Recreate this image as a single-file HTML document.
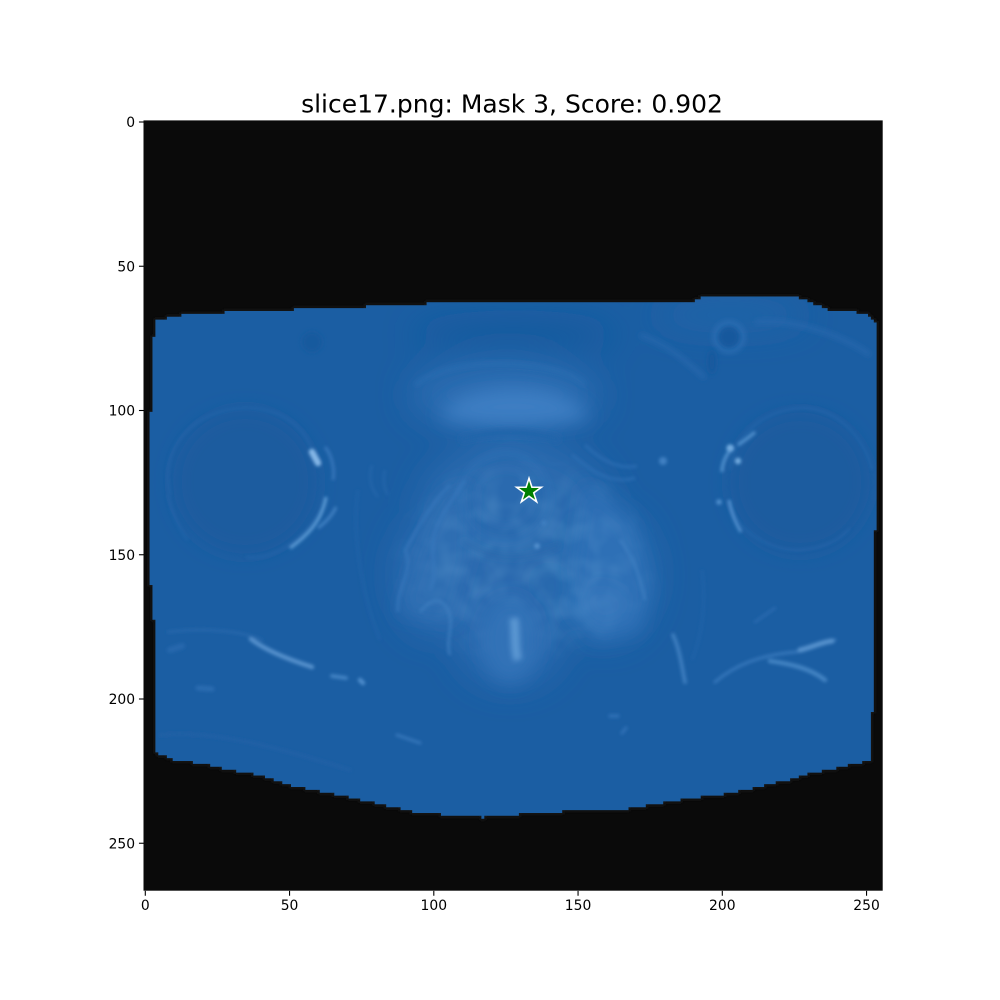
<!DOCTYPE html>
<html lang="en">
<head>
<meta charset="utf-8">
<title>slice17.png: Mask 3, Score: 0.902</title>
<style>
  html, body { margin: 0; padding: 0; background: #ffffff; }
  svg { display: block; }
  text { font-family: "DejaVu Sans", "Liberation Sans", sans-serif; fill: #000; }
</style>
</head>
<body>
<svg id="chart" xmlns="http://www.w3.org/2000/svg" width="1000" height="1000" viewBox="0 0 1000 1000">
  <defs>
    <filter id="b1" filterUnits="userSpaceOnUse" x="0" y="0" width="1000" height="1000"><feGaussianBlur stdDeviation="1.6"/></filter>
    <filter id="b2" filterUnits="userSpaceOnUse" x="0" y="0" width="1000" height="1000"><feGaussianBlur stdDeviation="2.6"/></filter>
    <filter id="b6" filterUnits="userSpaceOnUse" x="0" y="0" width="1000" height="1000"><feGaussianBlur stdDeviation="9"/></filter>
    <filter id="b14" filterUnits="userSpaceOnUse" x="0" y="0" width="1000" height="1000"><feGaussianBlur stdDeviation="16"/></filter>
    <filter id="grain" x="0" y="0" width="100%" height="100%">
      <feTurbulence type="fractalNoise" baseFrequency="0.05" numOctaves="2" seed="11"/>
      <feColorMatrix values="0 0 0 0 0.27  0 0 0 0 0.55  0 0 0 0 0.82  1.6 0 0 0 -0.55"/>
      <feGaussianBlur stdDeviation="1.2"/>
    </filter>
    <clipPath id="mask-clip"><polygon id="mask-clip-shape" points=""/></clipPath>
    <radialGradient id="fade">
      <stop offset="0.5" stop-color="#fff"/>
      <stop offset="1" stop-color="#000"/>
    </radialGradient>
    <mask id="centre-fade"><ellipse cx="525" cy="560" rx="140" ry="110" fill="url(#fade)"/></mask>
  </defs>

  <text x="512" y="112.5" font-size="25" text-anchor="middle">slice17.png: Mask 3, Score: 0.902</text>

  <g id="image-layer">
    <rect x="143.5" y="120.4" width="739.2" height="770.3" fill="#0a0a0a"/>
    <polygon id="mask-rim" points="" fill="#161616" stroke="#161616" stroke-width="3" filter="url(#b1)"/>
    <polygon id="mask-shape" points="" fill="#1b5ea3"/>

    <g clip-path="url(#mask-clip)">
      <!-- broad tone -->
      <g filter="url(#b14)">
        <ellipse cx="505" cy="395" rx="95" ry="36" fill="#2a6cb1"/>
        <ellipse cx="515" cy="510" rx="95" ry="70" fill="#296aaf"/>
        <ellipse cx="435" cy="575" rx="40" ry="60" fill="#2a6bb0"/>
        <ellipse cx="605" cy="575" rx="48" ry="65" fill="#2c6eb3"/>
        <ellipse cx="510" cy="630" rx="55" ry="55" fill="#2a6bb0"/>
        <ellipse cx="730" cy="315" rx="75" ry="14" fill="#2265a9"/>
        <ellipse cx="515" cy="335" rx="100" ry="14" fill="#195a9e"/>
      </g>
      <!-- bright band above prostate -->
      <path d="M440 418 Q450 392 510 388 Q570 388 590 418 Q510 432 440 418 Z" fill="#3c7ec3" filter="url(#b6)"/>
      <path d="M415 385 Q445 362 505 364 Q565 366 585 385" fill="none" stroke="#2c6eb3" stroke-width="3" filter="url(#b2)"/>
      <path d="M460 440 Q510 425 560 440" fill="none" stroke="#2465aa" stroke-width="8" filter="url(#b2)"/>
      <!-- femoral heads -->
      <g>
        <circle cx="245" cy="482" r="72" fill="#1a5b9f" filter="url(#b6)"/>
        <path d="M322 510 C300 545 270 560 246 557 M170 495 C158 445 195 410 245 408 C285 408 305 430 312 450 M168 495 C172 515 180 530 188 540" fill="none" stroke="#2668ad" stroke-width="2.4" opacity=".6" filter="url(#b1)"/>
        <path d="M326 497 C322 518 312 532 290 548" fill="none" stroke="#5a97d2" stroke-width="3.4" filter="url(#b1)"/>
        <path d="M336 507 C332 516 326 522 318 528" fill="none" stroke="#3f80c2" stroke-width="3" filter="url(#b1)"/>
        <path d="M312 452 L318 463" fill="none" stroke="#84b6e6" stroke-width="6.5" stroke-linecap="round" filter="url(#b1)"/>
        <path d="M325 447 C332 455 335 470 333 480" fill="none" stroke="#3676ba" stroke-width="3" filter="url(#b1)"/>
      </g>
      <g>
        <circle cx="800" cy="482" r="70" fill="#1a5b9f" filter="url(#b6)"/>
        <path d="M730 470 C735 430 770 408 805 408 C840 410 865 440 872 470 M728 500 C735 530 770 552 800 550 C825 548 840 540 850 528" fill="none" stroke="#2668ad" stroke-width="2.4" opacity=".65" filter="url(#b1)"/>
        <path d="M729 500 C731 512 735 522 741 532" fill="none" stroke="#4f8ecd" stroke-width="3.2" filter="url(#b1)"/>
        <path d="M733 447 C725 455 722 465 722 472 M738 445 C745 440 752 435 755 432" fill="none" stroke="#4d8dcb" stroke-width="3.4" filter="url(#b1)"/>
        <circle cx="730" cy="448" r="3.6" fill="#73abe0" filter="url(#b1)"/>
        <circle cx="738" cy="461" r="3.2" fill="#73abe0" filter="url(#b1)"/>
        <circle cx="719" cy="502" r="2.8" fill="#4f8ecd" filter="url(#b1)"/>
        <circle cx="663" cy="461" r="4" fill="#3f80c2" filter="url(#b1)"/>
      </g>
      <!-- upper right vessel ring -->
      <g>
        <circle cx="729" cy="337" r="14" fill="none" stroke="#2e70b5" stroke-width="4" filter="url(#b2)"/>
        <circle cx="729" cy="337" r="10" fill="#18599d" filter="url(#b2)"/>
        <ellipse cx="712" cy="362" rx="4" ry="12" fill="#18599d" filter="url(#b2)"/>
        <path d="M640 335 C670 345 690 365 705 378 M755 322 C800 318 850 340 870 355" fill="none" stroke="#2568ad" stroke-width="4" filter="url(#b2)"/>
        <circle cx="312" cy="342" r="10" fill="#195a9e" filter="url(#b2)"/>
      </g>
      <!-- tissue wings -->
      <g filter="url(#b6)">
        <polygon points="398,612 420,545 442,495 470,482 468,560 450,622" fill="#2d6eb3" opacity=".85"/>
        <polygon points="585,482 632,520 650,590 640,632 592,640 572,572" fill="#3070b6" opacity=".85"/>
        <ellipse cx="600" cy="605" rx="30" ry="20" fill="#3678bd" opacity=".8"/>
      </g>
      <rect x="380" y="450" width="290" height="230" filter="url(#grain)" mask="url(#centre-fade)" opacity=".22"/>
      <g fill="none" filter="url(#b2)">
        <circle cx="505" cy="497" r="44" stroke="#3272b7" stroke-width="7" opacity=".4"/>
        <circle cx="505" cy="497" r="28" stroke="#3676ba" stroke-width="5" opacity=".3"/>
        <path d="M462 540 Q505 572 560 545" stroke="#2668ad" stroke-width="5" opacity=".7"/>
      </g>
      <circle cx="537" cy="546" r="3" fill="#528fcd" filter="url(#b1)"/>
      <circle cx="544" cy="523" r="2.5" fill="#3f80c2" filter="url(#b1)"/>
      <g fill="none" stroke="#3878bd" stroke-width="3" filter="url(#b1)" opacity=".7">
        <path d="M398 612 C395 590 415 570 405 550 C420 525 430 505 450 485"/>
        <path d="M430 590 C440 570 425 545 440 520 C445 510 455 495 465 480"/>
        <path d="M572 455 C590 470 610 485 635 478" stroke="#2e70b5"/>
        <path d="M585 445 C600 460 620 470 637 466" stroke="#2e70b5"/>
        <path d="M620 540 C632 555 640 575 645 600" stroke="#3f80c2"/>
        <path d="M358 490 C352 530 360 590 380 640 M702 570 C707 610 700 640 692 660" stroke="#2465aa" stroke-width="2.5"/>
        <path d="M372 465 C368 480 372 490 378 497 M385 470 C382 480 385 490 388 495" stroke="#2769ae" stroke-width="2.4"/>
        <path d="M450 655 C445 640 455 625 448 610 C440 595 430 600 420 612" stroke="#3d7ec0"/>
      </g>
      <!-- lower centre -->
      <ellipse cx="510" cy="640" rx="28" ry="42" fill="#3072b7" filter="url(#b6)"/>
      <path d="M514 618 C516 632 514 648 518 660" fill="none" stroke="#5a96d2" stroke-width="9" filter="url(#b2)"/>
      <!-- muscle streaks -->
      <g fill="none" stroke-linecap="round" filter="url(#b1)">
        <path d="M251 639 C265 650 290 660 312 667" stroke="#5490cc" stroke-width="4.4"/>
        <path d="M332 676 L346 678" stroke="#4383c4" stroke-width="3.8"/>
        <path d="M360 680 L363 683" stroke="#4f8ecd" stroke-width="4.4"/>
        <path d="M397 735 L420 743" stroke="#3676ba" stroke-width="3"/>
        <path d="M198 688 L212 689" stroke="#2b6cb1" stroke-width="5"/>
        <path d="M170 650 L182 646" stroke="#2768ad" stroke-width="6"/>
        <path d="M168 632 C200 628 240 630 262 640" stroke="#2567ac" stroke-width="2.5"/>
        <path d="M160 735 C210 730 270 745 350 770" stroke="#2061a6" stroke-width="3"/>
        <path d="M673 635 C680 650 682 668 685 682" stroke="#3a7bbd" stroke-width="4"/>
        <path d="M715 682 C735 665 760 655 795 652 C810 650 820 642 835 640" stroke="#3676ba" stroke-width="3"/>
        <path d="M800 650 C810 648 822 642 832 641" stroke="#5490cc" stroke-width="5"/>
        <path d="M770 661 C790 664 810 668 825 680" stroke="#4283c3" stroke-width="4.4"/>
        <path d="M610 716 L618 716 M622 733 L626 728" stroke="#2e70b5" stroke-width="3.4"/>
        <path d="M755 622 L775 608" stroke="#2a6bb0" stroke-width="2.4"/>
      </g>
    </g>
  </g>

  <g id="x-axis"></g>
  <g id="y-axis"></g>
  <g id="points"></g>
</svg>

<script>
// Chart data (image coordinates: column, row)
const xTickValues = [0, 50, 100, 150, 200, 250];
const yTickValues = [0, 50, 100, 150, 200, 250];
const imageColumns = 256;
const imageRows = 267;
const promptColumn = [133];
const promptRow = [128];
const maskOutlineColumn = [3.4, 9, 13, 26.5, 46, 80, 97.4, 97.5, 188, 192, 224.5, 230.4, 236, 249, 252.3, 253.3, 253.3, 252.3, 252.3, 251.2, 251.2, 250.5, 237.3, 229, 222.3, 214, 205, 199.2, 191, 178.4, 166.9, 144.9, 126.4, 124, 117, 104.5, 93.5, 84.8, 71, 60.5, 50, 39.2, 29.4, 19.5, 10.3, 3.4, 3.4, 2.2, 2.2, 1.4, 1.4, 2.2, 2.2, 3.4];
const maskOutlineRow = [68.4, 67.7, 66.3, 66, 65.2, 63.8, 63.8, 62.5, 62.5, 61, 60.3, 62.6, 65, 66.3, 68.6, 70, 141, 141, 204, 204, 221, 221.7, 224.6, 226.3, 228.3, 230.2, 232, 233.3, 234.2, 236.2, 238.2, 239, 240.2, 240.2, 241, 240.2, 239, 237, 234, 231.8, 229.8, 226.3, 224.6, 222.3, 221.1, 218.3, 172, 172, 160, 160, 100.9, 100.9, 74.5, 74.5];

// Axis functions
const X0 = 145.3, Y0 = 122, UNIT = 2.885;
function xScale(v) { return X0 + v * UNIT; }
function yScale(v) { return Y0 + v * UNIT; }

const NS = 'http://www.w3.org/2000/svg';
const axisLeft = xScale(-0.5), axisRight = xScale(imageColumns - 0.5);
const axisTop = yScale(-0.5), axisBottom = yScale(imageRows - 0.5);

// Snap the mask outline to the image's pixel grid so it renders as a staircase
function snap(v) { return Math.round(v - 0.5) + 0.5; }
function staircase(cols, rows) {
  const out = [];
  for (let i = 0; i < cols.length; i++) {
    const c0 = cols[i], r0 = rows[i];
    const c1 = cols[(i + 1) % cols.length], r1 = rows[(i + 1) % cols.length];
    const n = Math.max(1, Math.ceil(Math.max(Math.abs(c1 - c0), Math.abs(r1 - r0))));
    for (let k = 0; k < n; k++) {
      const c = snap(c0 + (c1 - c0) * k / n);
      const r = snap(r0 + (r1 - r0) * k / n);
      const c2 = snap(c0 + (c1 - c0) * (k + 1) / n);
      out.push(xScale(c).toFixed(1) + ',' + yScale(r).toFixed(1));
      out.push(xScale(c2).toFixed(1) + ',' + yScale(r).toFixed(1));
    }
  }
  return out.join(' ');
}
const outline = staircase(maskOutlineColumn, maskOutlineRow);
document.getElementById('mask-shape').setAttribute('points', outline);
document.getElementById('mask-rim').setAttribute('points', outline);
document.getElementById('mask-clip-shape').setAttribute('points', outline);

// X axis
const xAxis = document.getElementById('x-axis');
xTickValues.forEach(v => {
  const tick = document.createElementNS(NS, 'line');
  
  
  tick.setAttribute('x1', xScale(v));
  tick.setAttribute('x2', xScale(v));
  tick.setAttribute('y1', axisBottom);
  tick.setAttribute('y2', axisBottom + 4.9);
  tick.setAttribute('stroke', '#000');
  tick.setAttribute('stroke-width', '1.1');
  xAxis.appendChild(tick);
  const label = document.createElementNS(NS, 'text');
  
  
  label.setAttribute('x', xScale(v));
  label.setAttribute('y', axisBottom + 19.2);
  label.setAttribute('font-size', '13.89');
  label.setAttribute('text-anchor', 'middle');
  label.textContent = v;
  xAxis.appendChild(label);
});

// Y axis
const yAxis = document.getElementById('y-axis');
yTickValues.forEach(v => {
  const tick = document.createElementNS(NS, 'line');
  
  
  tick.setAttribute('x1', axisLeft - 4.9);
  tick.setAttribute('x2', axisLeft);
  tick.setAttribute('y1', yScale(v));
  tick.setAttribute('y2', yScale(v));
  tick.setAttribute('stroke', '#000');
  tick.setAttribute('stroke-width', '1.1');
  yAxis.appendChild(tick);
  const label = document.createElementNS(NS, 'text');
  
  
  label.setAttribute('x', axisLeft - 8.8);
  label.setAttribute('y', yScale(v) + 5.1);
  label.setAttribute('font-size', '13.89');
  label.setAttribute('text-anchor', 'end');
  label.textContent = v;
  yAxis.appendChild(label);
});

// Prompt point star
function starPoints(cx, cy, outer) {
  const inner = outer * 0.381966;
  const pts = [];
  for (let i = 0; i < 10; i++) {
    const r = i % 2 === 0 ? outer : inner;
    const a = -Math.PI / 2 + i * Math.PI / 5;
    pts.push((cx + r * Math.cos(a)).toFixed(2) + ',' + (cy + r * Math.sin(a)).toFixed(2));
  }
  return pts.join(' ');
}
const pointLayer = document.getElementById('points');
promptColumn.forEach((c, i) => {
  const star = document.createElementNS(NS, 'polygon');
  
  
  star.setAttribute('points', starPoints(xScale(c), yScale(promptRow[i]), 13));
  star.setAttribute('fill', '#008000');
  star.setAttribute('stroke', '#ffffff');
  star.setAttribute('stroke-width', '1.6');
  star.setAttribute('stroke-linejoin', 'miter');
  pointLayer.appendChild(star);
});
</script>
</body>
</html>
